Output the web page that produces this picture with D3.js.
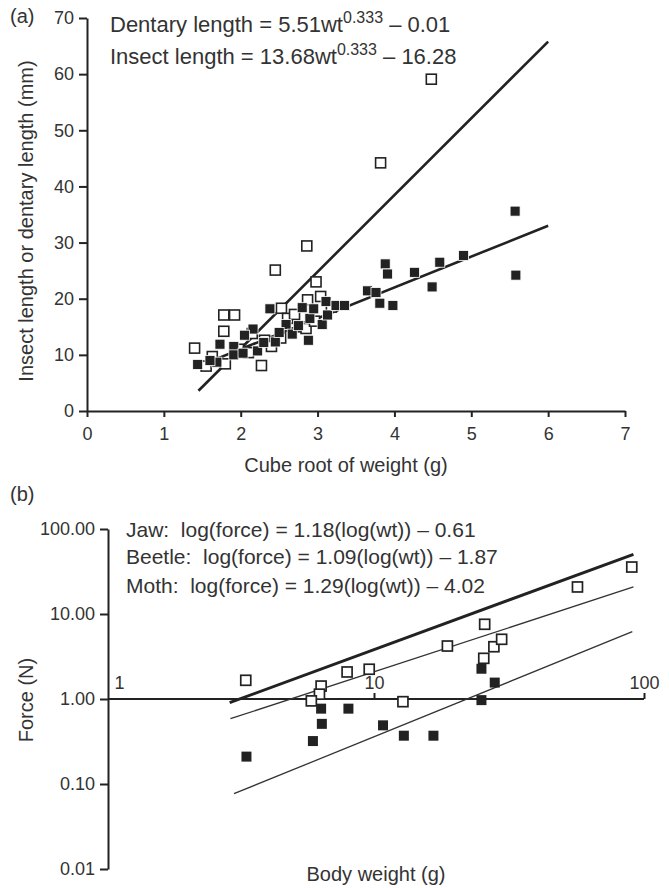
<!DOCTYPE html>
<html>
<head>
<meta charset="utf-8">
<script src="https://cdn.jsdelivr.net/npm/d3@7"></script>
<style>
  body { margin: 0; background: #fff; }
  svg { display: block; font-family: "Liberation Sans", Arial, sans-serif; }
  .t { fill: #333; }
  .axis path, .axis line { stroke: #222; stroke-width: 2; }
  .axis text { fill: #333; font-size: 18px; font-family: "Liberation Sans", Arial, sans-serif; }
</style>
</head>
<body>
<svg width="669" height="888"></svg>
<script>
/* ----------------------------------------------------------
data
---------------------------------------------------------- */

// (a) cube root of weight (g) vs length (mm)
var insectA = [
  [4.48, 59.1], [3.82, 44.2], [2.86, 29.4], [2.45, 25.1], [2.98, 23.0],
  [1.78, 17.1], [1.92, 17.1], [1.78, 14.2], [1.40, 11.2], [2.27, 8.1],
  [1.63, 9.7], [1.80, 8.4], [2.53, 18.3], [2.61, 16.5], [2.79, 15.0],
  [2.85, 14.7], [2.87, 19.8], [3.04, 20.4], [2.31, 12.6], [2.52, 13.0],
  [2.15, 13.8], [1.97, 11.0], [2.40, 11.5], [2.96, 16.0], [3.18, 18.5],
  [2.70, 17.2], [1.55, 8.0], [2.10, 10.4]
];
var dentaryA = [
  [5.57, 35.6], [5.58, 24.2], [4.90, 27.7], [4.59, 26.5], [4.49, 22.1],
  [4.26, 24.7], [3.88, 26.2], [3.91, 24.4], [3.65, 21.4], [3.76, 21.1],
  [3.81, 19.2], [3.98, 18.8], [2.38, 18.2], [2.16, 14.6], [2.05, 13.5],
  [1.73, 11.9], [1.91, 11.5], [1.44, 8.3], [1.69, 8.7], [1.91, 10.0],
  [2.03, 10.3], [2.22, 10.7], [2.45, 12.3], [2.59, 15.4], [2.67, 13.7],
  [2.80, 18.4], [2.90, 16.5], [2.88, 12.6], [3.06, 15.4], [3.11, 19.5],
  [3.13, 17.1], [3.24, 18.8], [2.95, 18.2], [3.35, 18.8], [2.30, 12.2],
  [1.60, 9.0], [2.75, 15.2], [2.50, 14.0]
];
// fitted lines, end points
var insectFitA = [[1.45, 3.6], [6.0, 65.8]];
var dentaryFitA = [[1.45, 8.0], [6.0, 33.0]];

// (b) body weight (g) vs force (N), log-log
var jawB = [
  [3.35, 1.66], [6.37, 1.42], [6.28, 1.14], [5.86, 0.95], [7.95, 2.08],
  [9.6, 2.24], [12.8, 0.93], [18.7, 4.2], [25.7, 7.57], [27.8, 4.12],
  [29.7, 5.04], [25.5, 3.01], [56.7, 20.8], [90.1, 35.7]
];
var insectB = [
  [3.37, 0.21], [5.94, 0.32], [6.41, 0.51], [6.37, 0.77], [8.04, 0.77],
  [10.8, 0.49], [12.9, 0.37], [16.6, 0.37], [25.0, 0.97], [25.0, 2.27],
  [28.0, 1.56]
];
var jawFitB = [[2.92, 0.905], [91.4, 50.4]];
var beetleFitB = [[2.94, 0.587], [91.4, 20.8]];
var mothFitB = [[3.03, 0.0769], [90.5, 6.19]];

var xTicksA = [0, 1, 2, 3, 4, 5, 6, 7];
var yTicksA = [0, 10, 20, 30, 40, 50, 60, 70];
var yTicksB = [100, 10, 1, 0.1, 0.01];
var xTicksB = [1, 10, 100];

/* ----------------------------------------------------------
prepare
---------------------------------------------------------- */

var svg = d3.select("svg");

// ---------- panel (a)
var xA = d3.scaleLinear().domain([0, 7]).range([87, 625]);
var yA = d3.scaleLinear().domain([0, 70]).range([411, 18]);

var gA = svg.append("g");

gA.append("g").attr("class", "axis")
  .attr("transform", "translate(87,0)")
  .call(d3.axisLeft(yA).tickValues(yTicksA).tickSize(8).tickSizeOuter(0).tickPadding(5));

gA.append("g").attr("class", "axis")
  .attr("transform", "translate(0,411)")
  .call(d3.axisBottom(xA).tickValues(xTicksA).tickFormat(d3.format("d"))
    .tickSize(6).tickSizeOuter(0).tickPadding(10));

var lineA = d3.line().x(d => xA(d[0])).y(d => yA(d[1]));
[insectFitA, dentaryFitA].forEach(function(p) {
  gA.append("path").attr("d", lineA(p))
    .attr("fill", "none").attr("stroke", "#222").attr("stroke-width", 2.6);
});

var sA = 10;
gA.selectAll(".openA").data(insectA).enter().append("rect")
  .attr("x", d => xA(d[0]) - sA / 2).attr("y", d => yA(d[1]) - sA / 2)
  .attr("width", sA).attr("height", sA)
  .attr("fill", "#fff").attr("stroke", "#222").attr("stroke-width", 1.6);
gA.selectAll(".fillA").data(dentaryA).enter().append("rect")
  .attr("x", d => xA(d[0]) - sA / 2).attr("y", d => yA(d[1]) - sA / 2)
  .attr("width", sA).attr("height", sA)
  .attr("fill", "#222").attr("stroke", "#fff").attr("stroke-width", 0.8);

// texts
svg.append("text").attr("class", "t").attr("x", 10).attr("y", 23)
  .style("font-size", "20px").text("(a)");

var eq1 = svg.append("text").attr("class", "t").attr("x", 110).attr("y", 32).style("font-size", "22px");
eq1.append("tspan").text("Dentary length = 5.51wt");
eq1.append("tspan").attr("dy", -9).style("font-size", "16px").text("0.333");
eq1.append("tspan").attr("dy", 9).text(" \u2013 0.01");

var eq2 = svg.append("text").attr("class", "t").attr("x", 110).attr("y", 64).style("font-size", "22px");
eq2.append("tspan").text("Insect length = 13.68wt");
eq2.append("tspan").attr("dy", -9).style("font-size", "16px").text("0.333");
eq2.append("tspan").attr("dy", 9).text(" \u2013 16.28");

svg.append("text").attr("class", "t")
  .attr("transform", "translate(33,221) rotate(-90)")
  .attr("text-anchor", "middle").style("font-size", "20px")
  .text("Insect length or dentary length (mm)");

svg.append("text").attr("class", "t").attr("x", 346).attr("y", 472)
  .attr("text-anchor", "middle").style("font-size", "20px")
  .text("Cube root of weight (g)");

// ---------- panel (b)
var xB = d3.scaleLog().domain([1, 100]).range([104, 644]);
var yB = d3.scaleLog().domain([0.01, 100]).range([869, 529]);

var gB = svg.append("g");

gB.append("g").attr("class", "axis")
  .attr("transform", "translate(108,0)")
  .call(d3.axisLeft(yB).tickValues(yTicksB).tickFormat(d3.format(".2f"))
    .tickSize(8).tickSizeOuter(0).tickPadding(5));

var xAxisB = gB.append("g").attr("class", "axis")
  .attr("transform", "translate(0," + yB(1) + ")")
  .call(d3.axisTop(xB).tickValues(xTicksB).tickFormat(d3.format("d"))
    .tickSize(6).tickSizeOuter(0).tickPadding(4));
xAxisB.select(".domain").attr("d", "M108,0H" + xB(100));
xAxisB.selectAll(".tick").filter(d => d === 1).select("line").remove();
xAxisB.selectAll(".tick").filter(d => d === 1).select("text")
  .attr("x", 15);

var lineB = d3.line().x(d => xB(d[0])).y(d => yB(d[1]));
gB.append("path").attr("d", lineB(jawFitB))
  .attr("fill", "none").attr("stroke", "#222").attr("stroke-width", 3);
[beetleFitB, mothFitB].forEach(function(p) {
  gB.append("path").attr("d", lineB(p))
    .attr("fill", "none").attr("stroke", "#333").attr("stroke-width", 1.3);
});

var sB = 10;
gB.selectAll(".openB").data(jawB).enter().append("rect")
  .attr("x", d => xB(d[0]) - sB / 2).attr("y", d => yB(d[1]) - sB / 2)
  .attr("width", sB).attr("height", sB)
  .attr("fill", "#fff").attr("stroke", "#222").attr("stroke-width", 1.7);
gB.selectAll(".fillB").data(insectB).enter().append("rect")
  .attr("x", d => xB(d[0]) - sB / 2).attr("y", d => yB(d[1]) - sB / 2)
  .attr("width", sB).attr("height", sB)
  .attr("fill", "#222");

svg.append("text").attr("class", "t").attr("x", 10).attr("y", 501)
  .style("font-size", "20px").text("(b)");

var eqB = [
  ["Jaw:  log(force) = 1.18(log(wt)) \u2013 0.61", 537],
  ["Beetle:  log(force) = 1.09(log(wt)) \u2013 1.87", 564],
  ["Moth:  log(force) = 1.29(log(wt)) \u2013 4.02", 593]
];
svg.selectAll(".eqB").data(eqB).enter().append("text")
  .attr("class", "t").attr("x", 126).attr("y", d => d[1])
  .style("font-size", "21px").style("white-space", "pre").text(d => d[0]);

svg.append("text").attr("class", "t")
  .attr("transform", "translate(33,700) rotate(-90)")
  .attr("text-anchor", "middle").style("font-size", "20px")
  .text("Force (N)");

svg.append("text").attr("class", "t").attr("x", 376).attr("y", 881)
  .attr("text-anchor", "middle").style("font-size", "20px")
  .text("Body weight (g)");
</script>
</body>
</html>
